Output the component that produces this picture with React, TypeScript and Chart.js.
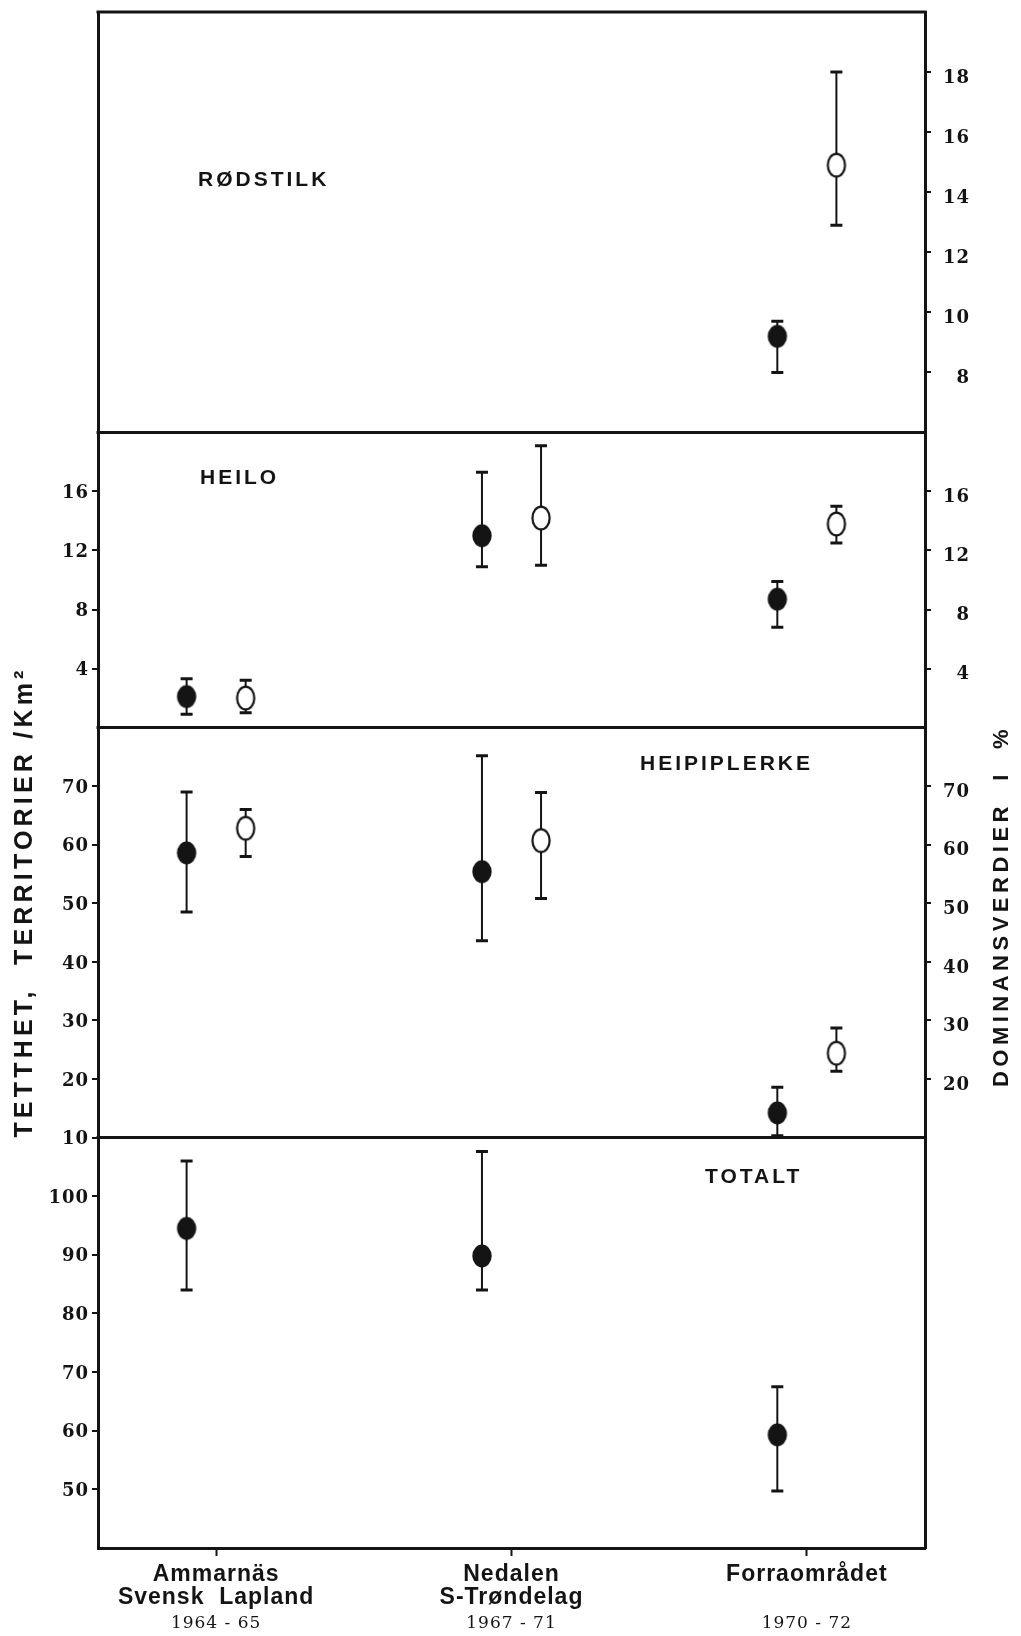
import React, { useEffect, useRef } from 'react';
import { Chart, registerables } from 'chart.js';

Chart.register(...registerables);

// ---------------- data ----------------
const siteNames = [['Ammarnäs', 'Svensk  Lapland'], ['Nedalen', 'S-Trøndelag'], ['Forraområdet']];
const sitePeriods = ['1964 - 65', '1967 - 71', '1970 - 72'];
const sitePositions = [1, 2, 3];

const panelNames = ['RØDSTILK', 'HEILO', 'HEIPIPLERKE', 'TOTALT'];

// RØDSTILK (filled = tetthet, open = dominans)
const rodstilkDensity = [null, null, 9.2];
const rodstilkDensityLow = [null, null, 8.0];
const rodstilkDensityHigh = [null, null, 9.7];
const rodstilkDominance = [null, null, 14.9];
const rodstilkDominanceLow = [null, null, 12.9];
const rodstilkDominanceHigh = [null, null, 18.0];

// HEILO
const heiloDensity = [2.1, 13.0, 8.7];
const heiloDensityLow = [0.9, 10.9, 6.8];
const heiloDensityHigh = [3.3, 17.3, 9.9];
const heiloDominance = [2.0, 14.2, 13.8];
const heiloDominanceLow = [1.0, 11.0, 12.5];
const heiloDominanceHigh = [3.2, 19.1, 15.0];

// HEIPIPLERKE
const heipiplerkeDensity = [58.6, 55.4, 14.2];
const heipiplerkeDensityLow = [48.5, 43.6, 10.3];
const heipiplerkeDensityHigh = [69.0, 75.2, 18.6];
const heipiplerkeDominance = [62.8, 60.7, 24.4];
const heipiplerkeDominanceLow = [58.0, 50.8, 21.3];
const heipiplerkeDominanceHigh = [66.0, 68.9, 28.7];

// TOTALT
const totaltDensity = [94.5, 89.8, 59.3];
const totaltDensityLow = [84.0, 84.0, 49.7];
const totaltDensityHigh = [106.0, 107.6, 67.5];

// axis ranges and tick labels
const rodstilkRange = [6, 20];
const heiloRange = [0, 20];
const heipiplerkeRange = [10, 80];
const totaltRange = [40, 110];
const rodstilkRightTicks = [8, 10, 12, 14, 16, 18];
const heiloLeftTicks = [4, 8, 12, 16];
const heiloRightTicks = [4, 8, 12, 16];
const heipiplerkeLeftTicks = [10, 20, 30, 40, 50, 60, 70];
const heipiplerkeRightTicks = [20, 30, 40, 50, 60, 70];
const totaltLeftTicks = [50, 60, 70, 80, 90, 100];

const leftTitle = 'TETTHET,  TERRITORIER /Km²';
const rightTitle = 'DOMINANSVERDIER  I  %';

// ---------------- styling / layout ----------------
const ink = '#141414';
const panelHeights = [421, 295.5, 410.5, 411];
const leftIds = ['yL1', 'yL2', 'yL3', 'yL4'];
const panelLabelOffsets = [[100, 168], [102, 46], [542, 37], [607, 40]];
const dodge = 0.1;
const tickFont = { family: '"DejaVu Serif", serif', size: 18, weight: 'bold' };

function makeMarker(filled: boolean) {
  const c = document.createElement('canvas');
  c.width = 24;
  c.height = 28;
  const g = c.getContext('2d')!;
  g.beginPath();
  g.ellipse(12, 14, filled ? 9.7 : 8.6, 11.4, 0, 0, Math.PI * 2);
  if (filled) {
    g.fillStyle = ink;
    g.fill();
  } else {
    g.fillStyle = '#fff';
    g.fill();
    g.lineWidth = 2.2;
    g.strokeStyle = ink;
    g.stroke();
  }
  return c;
}

function noPadding(s: any) {
  s.paddingTop = 0;
  s.paddingBottom = 0;
  s.paddingLeft = 0;
  s.paddingRight = 0;
}

function yAxis(position: string, order: number, stackWeight: number, range: number[], ticks: number[] | null) {
  const show = !!ticks;
  const isLeft = position === 'left';
  const axis: any = {
    type: 'linear',
    position,
    stack: position,
    stackWeight,
    weight: order,
    min: range[0],
    max: range[1],
    afterFit: (s: any) => {
      s.width = isLeft ? 98 : 45;
      noPadding(s);
    },
    ticks: {
      display: show,
      font: tickFont,
      color: ink,
      padding: isLeft ? 3 : 13,
      crossAlign: isLeft ? 'near' : 'far',
      labelOffset: isLeft ? 2 : 6,
      callback: (v: any) => String(v),
    },
    grid: {
      display: show,
      drawOnChartArea: false,
      drawTicks: show,
      tickLength: 6,
      tickWidth: 2,
      tickColor: ink,
      color: ink,
      lineWidth: 2,
    },
    border: { display: true, color: ink, width: 3 },
  };
  if (ticks) {
    axis.afterBuildTicks = (s: any) => {
      s.ticks = ticks.map((v) => ({ value: v }));
    };
  }
  return axis;
}

function series(values: any[], low: any[], high: any[], offset: number, axis: string, marker: any, label: string) {
  const data: any[] = [];
  const errLow: number[] = [];
  const errHigh: number[] = [];
  values.forEach((v, i) => {
    if (v == null) return;
    data.push({ x: sitePositions[i] + offset, y: v });
    errLow.push(low[i]);
    errHigh.push(high[i]);
  });
  return {
    type: 'scatter',
    label,
    data,
    errLow,
    errHigh,
    xAxisID: 'x',
    yAxisID: axis,
    pointStyle: marker,
    pointRadius: 11,
    pointHoverRadius: 11,
    showLine: false,
  };
}

const errorBars = {
  id: 'errorBars',
  beforeDatasetsDraw(chart: any) {
    const ctx = chart.ctx;
    ctx.save();
    ctx.strokeStyle = ink;
    chart.data.datasets.forEach((ds: any) => {
      const xs = chart.scales[ds.xAxisID];
      const ys = chart.scales[ds.yAxisID];
      ds.data.forEach((p: any, i: number) => {
        const x = xs.getPixelForValue(p.x);
        const y1 = ys.getPixelForValue(ds.errLow[i]);
        const y2 = ys.getPixelForValue(ds.errHigh[i]);
        ctx.lineWidth = 2;
        ctx.beginPath();
        ctx.moveTo(x, y1);
        ctx.lineTo(x, y2);
        ctx.stroke();
        ctx.lineWidth = 3;
        ctx.beginPath();
        ctx.moveTo(x - 6, y1);
        ctx.lineTo(x + 6, y1);
        ctx.moveTo(x - 6, y2);
        ctx.lineTo(x + 6, y2);
        ctx.stroke();
      });
    });
    ctx.restore();
  },
};

const frameAndLabels = {
  id: 'frameAndLabels',
  beforeLayout(chart: any) {
    chart.ctx.letterSpacing = '1px';
  },
  beforeDraw(chart: any) {
    chart.ctx.letterSpacing = '1px';
  },
  afterDraw(chart: any) {
    const { ctx, chartArea } = chart;
    ctx.save();
    ctx.letterSpacing = '0px';
    ctx.strokeStyle = ink;
    ctx.lineWidth = 3;
    ctx.beginPath();
    leftIds.forEach((id) => {
      const s = chart.scales[id];
      ctx.moveTo(chartArea.left - 1.5, s.top);
      ctx.lineTo(chartArea.right + 1.5, s.top);
    });
    ctx.stroke();

    ctx.fillStyle = ink;
    ctx.font = 'bold 21px "Liberation Sans", Arial, sans-serif';
    ctx.letterSpacing = '3px';
    ctx.textAlign = 'left';
    ctx.textBaseline = 'middle';
    panelNames.forEach((name, i) => {
      const s = chart.scales[leftIds[i]];
      ctx.fillText(name, chartArea.left + panelLabelOffsets[i][0], s.top + panelLabelOffsets[i][1]);
    });

    ctx.textAlign = 'center';
    ctx.save();
    ctx.font = 'bold 25px "Liberation Sans", Arial, sans-serif';
    ctx.letterSpacing = '4.2px';
    ctx.translate(25, 902);
    ctx.rotate(-Math.PI / 2);
    ctx.fillText(leftTitle, 0, 0);
    ctx.restore();

    ctx.save();
    ctx.font = 'bold 22px "Liberation Sans", Arial, sans-serif';
    ctx.letterSpacing = '4.5px';
    ctx.translate(1002, 906);
    ctx.rotate(-Math.PI / 2);
    ctx.fillText(rightTitle, 0, 0);
    ctx.restore();

    ctx.restore();
  },
};

export default function App() {
  const ref = useRef<HTMLCanvasElement>(null);

  useEffect(() => {
    const canvas = ref.current!;
    const filled = makeMarker(true);
    const open = makeMarker(false);

    const datasets: any[] = [
      series(rodstilkDensity, rodstilkDensityLow, rodstilkDensityHigh, -dodge, 'yL1', filled, 'Rødstilk tetthet'),
      series(rodstilkDominance, rodstilkDominanceLow, rodstilkDominanceHigh, dodge, 'yR1', open, 'Rødstilk dominans'),
      series(heiloDensity, heiloDensityLow, heiloDensityHigh, -dodge, 'yL2', filled, 'Heilo tetthet'),
      series(heiloDominance, heiloDominanceLow, heiloDominanceHigh, dodge, 'yR2', open, 'Heilo dominans'),
      series(heipiplerkeDensity, heipiplerkeDensityLow, heipiplerkeDensityHigh, -dodge, 'yL3', filled, 'Heipiplerke tetthet'),
      series(heipiplerkeDominance, heipiplerkeDominanceLow, heipiplerkeDominanceHigh, dodge, 'yR3', open, 'Heipiplerke dominans'),
      series(totaltDensity, totaltDensityLow, totaltDensityHigh, -dodge, 'yL4', filled, 'Totalt tetthet'),
    ];

    const xTicks = (s: any) => {
      s.ticks = sitePositions.map((v) => ({ value: v }));
    };

    const chart = new Chart(canvas, {
      type: 'scatter',
      data: { datasets },
      options: {
        responsive: false,
        animation: false,
        events: [],
        layout: { padding: { top: 10, right: 51, bottom: 0, left: 0 } },
        plugins: { legend: { display: false }, tooltip: { enabled: false }, title: { display: false } },
        scales: {
          x: {
            type: 'linear',
            position: 'bottom',
            weight: 0,
            min: 0.6,
            max: 3.4,
            afterBuildTicks: xTicks,
            afterFit: (s: any) => {
              s.height = 64;
              noPadding(s);
            },
            ticks: {
              font: { family: '"Liberation Sans", Arial, sans-serif', size: 23, weight: 'bold', lineHeight: 1.0 },
              color: ink,
              padding: 7,
              maxRotation: 0,
              autoSkip: false,
              callback: (v: any) => siteNames[sitePositions.indexOf(v)],
            },
            grid: { drawOnChartArea: false, tickLength: 8, tickWidth: 2, tickColor: ink, color: ink },
            border: { display: true, color: ink, width: 3 },
          },
          xYears: {
            type: 'linear',
            axis: 'x',
            position: 'bottom',
            weight: 1,
            min: 0.6,
            max: 3.4,
            afterBuildTicks: xTicks,
            afterFit: (s: any) => {
              s.height = 24;
              noPadding(s);
            },
            ticks: {
              font: { family: '"DejaVu Serif", serif', size: 17, lineHeight: 1.0 },
              color: ink,
              padding: 3,
              maxRotation: 0,
              autoSkip: false,
              callback: (v: any) => sitePeriods[sitePositions.indexOf(v)],
            },
            grid: { display: false, drawTicks: false },
            border: { display: false },
          },
          yL1: yAxis('left', 4, panelHeights[0], rodstilkRange, null),
          yL2: yAxis('left', 3, panelHeights[1], heiloRange, heiloLeftTicks),
          yL3: yAxis('left', 2, panelHeights[2], heipiplerkeRange, heipiplerkeLeftTicks),
          yL4: yAxis('left', 1, panelHeights[3], totaltRange, totaltLeftTicks),
          yR1: yAxis('right', 1, panelHeights[0], rodstilkRange, rodstilkRightTicks),
          yR2: yAxis('right', 2, panelHeights[1], heiloRange, heiloRightTicks),
          yR3: yAxis('right', 3, panelHeights[2], heipiplerkeRange, heipiplerkeRightTicks),
          yR4: yAxis('right', 4, panelHeights[3], totaltRange, null),
        },
      } as any,
      plugins: [errorBars, frameAndLabels],
    } as any);

    return () => chart.destroy();
  }, []);

  return (
    <div style={{ position: 'fixed', left: 0, top: 0, width: 1021, height: 1636, background: '#fff' }}>
      <canvas ref={ref} width={1021} height={1636} style={{ display: 'block', width: 1021, height: 1636 }} />
    </div>
  );
}
